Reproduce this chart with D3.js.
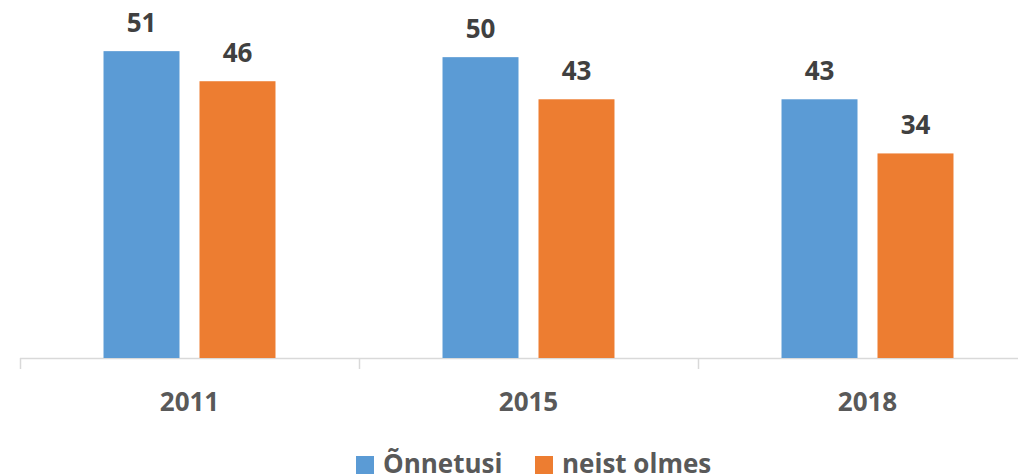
<!DOCTYPE html>
<html>
<head>
<meta charset="utf-8">
<script src="https://cdn.jsdelivr.net/npm/d3@7"></script>
<style>
  body { margin: 0; background: #fff; }
  svg { display: block; font-family: "Open Sans", "DejaVu Sans", sans-serif; font-weight: bold; }
</style>
</head>
<body>
<svg id="chart" width="1018" height="475"></svg>
<script>
const years = ['2011', '2015', '2018'];
const seriesNames = ['Õnnetusi', 'neist olmes'];
const onnetusi = [51, 50, 43];
const neistOlmes = [46, 43, 34];
const colors = ['#5B9BD5', '#ED7D31'];

const svg = d3.select('#chart');
const baseY = 358;

const x0 = d3.scaleBand().domain(years).range([20, 1037]);
const x1 = d3.scaleBand().domain(seriesNames)
  .range([0, x0.bandwidth()])
  .paddingInner(20 / 96)
  .paddingOuter(0.87);
const y = d3.scaleLinear().domain([0, 59.5]).range([baseY, 0]);

const rows = years.map((yr, i) => ({ year: yr, values: [onnetusi[i], neistOlmes[i]] }));

// axis line + boundary ticks
svg.append('line')
  .attr('x1', 20).attr('x2', 1018)
  .attr('y1', baseY + 0.5).attr('y2', baseY + 0.5)
  .attr('stroke', '#D9D9D9').attr('stroke-width', 1.5);

const bounds = years.map(d => x0(d)).concat([x0(years[years.length - 1]) + x0.bandwidth()]);
svg.append('g').selectAll('line')
  .data(bounds)
  .join('line')
  .attr('x1', d => Math.round(d) + 0.5).attr('x2', d => Math.round(d) + 0.5)
  .attr('y1', baseY).attr('y2', baseY + 11)
  .attr('stroke', '#D9D9D9').attr('stroke-width', 1.5);

// bars
const groups = svg.append('g').selectAll('g')
  .data(rows)
  .join('g')
  .attr('transform', d => `translate(${x0(d.year)},0)`);

groups.selectAll('rect')
  .data(d => d.values.map((v, i) => ({ name: seriesNames[i], value: v, i })))
  .join('rect')
  .attr('x', d => x1(d.name))
  .attr('width', x1.bandwidth())
  .attr('y', d => y(d.value))
  .attr('height', d => baseY - y(d.value))
  .attr('fill', d => colors[d.i]);

groups.selectAll('text')
  .data(d => d.values.map((v, i) => ({ name: seriesNames[i], value: v, i })))
  .join('text')
  .attr('x', d => x1(d.name) + x1.bandwidth() / 2)
  .attr('y', d => y(d.value) - 19)
  .attr('text-anchor', 'middle')
  .attr('font-size', '26px')
  .attr('fill', '#404040')
  .text(d => d.value);

// category labels
const xAxis = d3.axisBottom(x0).tickSize(0).tickPadding(0);
const axisG = svg.append('g').attr('transform', `translate(0,${baseY})`).call(xAxis);
axisG.select('.domain').remove();
axisG.selectAll('text')
  .attr('dy', null)
  .attr('y', 53)
  .attr('font-size', '26px')
  .attr('font-family', '"Open Sans", sans-serif')
  .attr('font-weight', 'bold')
  .attr('fill', '#595959');

// legend
const legendItems = [
  { name: seriesNames[0], color: colors[0], x: 356 },
  { name: seriesNames[1], color: colors[1], x: 535 }
];
const legend = svg.append('g').selectAll('g')
  .data(legendItems)
  .join('g')
  .attr('transform', d => `translate(${d.x},456)`);
legend.append('rect')
  .attr('width', 18).attr('height', 18)
  .attr('fill', d => d.color);
legend.append('text')
  .attr('x', 27).attr('y', 17)
  .attr('font-size', '26px')
  .attr('fill', '#595959')
  .text(d => d.name);
</script>
</body>
</html>
